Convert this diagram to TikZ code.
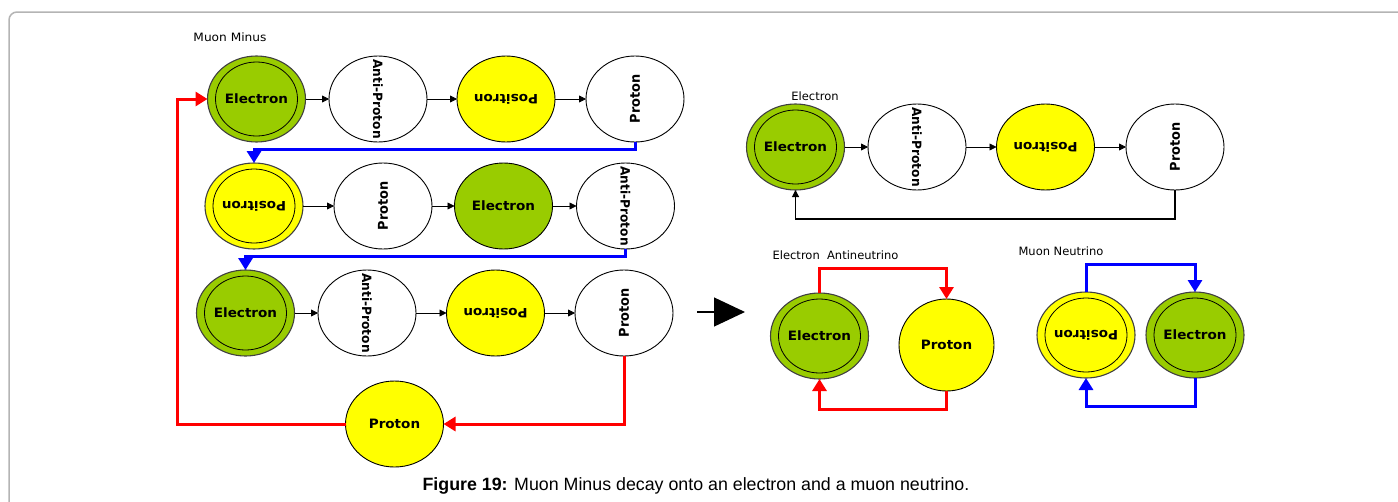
\documentclass[tikz,border=0pt]{standalone}
\usepackage{fontspec}
\setmainfont{DejaVu Sans}
\newfontfamily\capfont{Liberation Sans}
\usetikzlibrary{shapes.geometric,arrows.meta,calc}
\definecolor{grn}{HTML}{99CC00}
\definecolor{yel}{HTML}{FFFF00}
\definecolor{frm}{HTML}{B4B4B4}
\definecolor{ring}{HTML}{404040}
\tikzset{
 part/.style={ellipse, draw=black, line width=0.9pt, minimum width=98pt, minimum height=86pt, inner sep=0pt, outer sep=0pt},
 ptext/.style={font=\fontsize{12.9}{15}\selectfont\bfseries, inner sep=0pt},
 lbl/.style={font=\fontsize{11.5}{13}\selectfont, inner sep=0pt},
 flow/.style={draw=black, line width=0.8pt, -{Triangle[length=7pt,width=7pt]}},
 rflow/.style={draw=red, line width=3pt, -{Triangle[length=12pt,width=14pt]}},
 bflow/.style={draw=blue, line width=3pt, -{Triangle[length=12pt,width=14pt]}},
}
\newcommand\mkpart[6]{%
 \node[part, fill=#4] (#1) at (#2,#3) {};
 \node[ptext, xscale=1.05, rotate=#6] (#1t) at (#1.center) {#5};
}
\newcommand\mkring[6]{%
 \node[part, fill=#4, draw=ring, line width=1.1pt] (#1) at (#2,#3) {};
 \draw[black, line width=0.8pt] (#1.center) ellipse [x radius=41pt, y radius=37pt];
 \node[ptext, xscale=1.05, rotate=#6] (#1t) at (#1.center) {#5};
}
\begin{document}
\begin{tikzpicture}[x=1pt,y=-1pt]
\useasboundingbox (0,0) rectangle (1398,501);
\fill[white] (0,0) rectangle (1398,501);
\draw[frm, line width=1.5pt, rounded corners=8pt] (9,505) -- (9,12) -- (1402,12);

% labels
\node[lbl, xscale=1.06] (lmm) at (230,37) {Muon Minus};
\node[lbl] (lel) at (815,96) {Electron};
\node[lbl] (lea) at (835.5,255.5) {Electron\ \ Antineutrino};
\node[lbl] (lmn) at (1061,251) {Muon Neutrino};

% row 1
\mkring{e1}{256.5}{99}{grn}{Electron}{0}
\mkpart{a1}{378}{99}{white}{\fontsize{12.2}{14}\selectfont Anti-Proton}{-90}
\mkpart{p1}{506}{99}{yel}{Positron}{180}
\mkpart{r1}{635}{99}{white}{Proton}{90}
% row 2
\mkring{q2}{254}{206}{yel}{Positron}{180}
\mkpart{r2}{383}{206}{white}{Proton}{90}
\mkpart{e2}{503.5}{206}{grn}{Electron}{0}
\mkpart{a2}{625.5}{206}{white}{\fontsize{12.2}{14}\selectfont Anti-Proton}{-90}
% row 3
\mkring{e3}{245.5}{313}{grn}{Electron}{0}
\mkpart{a3}{367}{313}{white}{\fontsize{12.2}{14}\selectfont Anti-Proton}{-90}
\mkpart{p3}{495.5}{313}{yel}{Positron}{180}
\mkpart{r3}{624}{313}{white}{Proton}{90}
% bottom proton
\mkpart{pb}{394.5}{424}{yel}{Proton}{0}

\draw[flow] (e1) -- (a1);
\draw[flow] (a1) -- (p1);
\draw[flow] (p1) -- (r1);
\draw[flow] (q2) -- (r2);
\draw[flow] (r2) -- (e2);
\draw[flow] (e2) -- (a2);
\draw[flow] (e3) -- (a3);
\draw[flow] (a3) -- (p3);
\draw[flow] (p3) -- (r3);

\draw[bflow] (r1.south) -- ++(0,7) -| (q2.north);
\draw[bflow] (a2.south) -- ++(0,7) -| (e3.north);
\draw[rflow] (r3.south) |- (pb.east);
\coordinate (rl) at (177,424);
\draw[rflow] (pb.west) -- (rl) |- (e1.west);

% big arrow
\coordinate (bs) at (697,312);
\coordinate (be) at (745,312);
\draw[black, line width=1.2pt, -{Triangle[length=31pt,width=29pt]}] (bs) -- (be);

% right top group
\mkring{e4}{795.5}{147}{grn}{Electron}{0}
\mkpart{a4}{917}{147}{white}{\fontsize{12.2}{14}\selectfont Anti-Proton}{-90}
\mkpart{p4}{1045.5}{147}{yel}{Positron}{180}
\mkpart{r4}{1175}{147}{white}{Proton}{90}
\draw[flow] (e4) -- (a4);
\draw[flow] (a4) -- (p4);
\draw[flow] (p4) -- (r4);
\draw[flow, line width=1.1pt] (r4.south) -- ++(0,29) -| (e4.south);

% electron antineutrino
\mkring{e5}{819.5}{336}{grn}{Electron}{0}
\node[part, fill=yel, minimum width=95pt, minimum height=92pt] (pr5) at (946.5,345) {};
\node[ptext, xscale=1.05] (pr5t) at (pr5.center) {Proton};
\draw[rflow] (e5.north) -- ++(0,-25) -| (pr5.north);
\draw[rflow] (pr5.south) -- ++(0,18) -| (e5.south);

% muon neutrino
\mkring{q6}{1086}{335}{yel}{Positron}{180}
\mkring{e6}{1195}{335}{grn}{Electron}{0}
\draw[bflow] (q6.north) -- ++(0,-28) -| (e6.north);
\draw[bflow] (e6.south) -- ++(0,28) -| (q6.south);

% caption
\node[font=\capfont\fontsize{17.8}{20}\selectfont, inner sep=0pt] (cap) at (696,486) {\textbf{Figure 19:} Muon Minus decay onto an electron and a muon neutrino.};
\end{tikzpicture}
\end{document}
